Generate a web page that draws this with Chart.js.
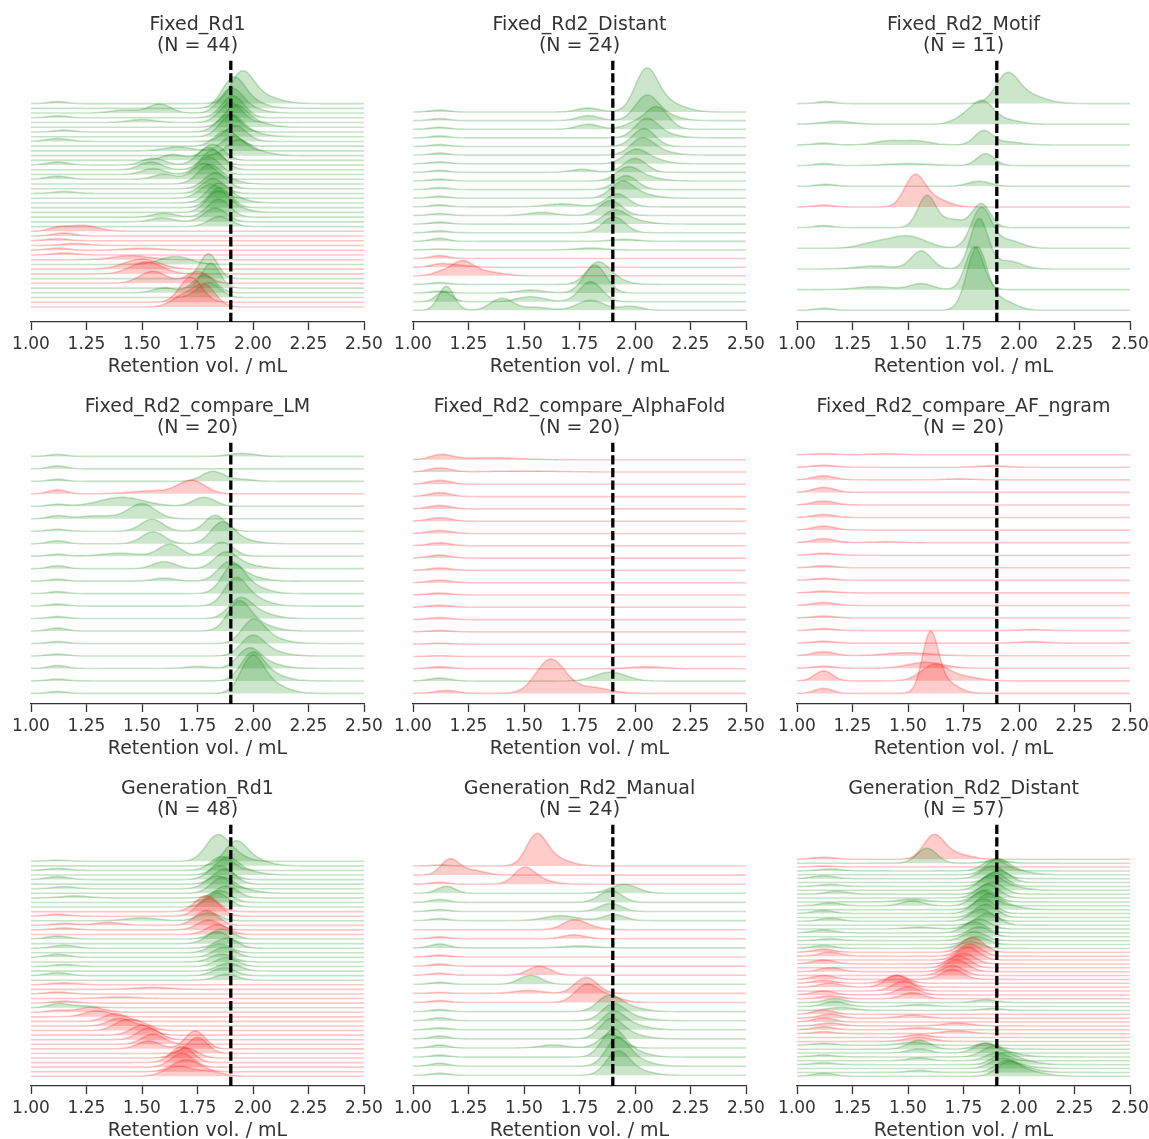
<!DOCTYPE html>
<html>
<head>
<meta charset="utf-8">
<title>Retention volume ridgelines</title>
<script src="https://cdn.jsdelivr.net/npm/chart.js@4.4.1/dist/chart.umd.min.js"></script>
<style>
  html, body { margin: 0; padding: 0; background: #fff; }
  body { position: relative; width: 1149px; height: 1139px; overflow: hidden; }
  canvas { position: absolute; }
</style>
</head>
<body>
<script>
// x axis
const tickValues = [1, 1.25, 1.5, 1.75, 2, 2.25, 2.5];
const tickLabels = ['1.00', '1.25', '1.50', '1.75', '2.00', '2.25', '2.50'];
const cutoff = 1.9;
const xLabel = 'Retention vol. / mL';

const panelTitles = ['Fixed_Rd1', 'Fixed_Rd2_Distant', 'Fixed_Rd2_Motif',
  'Fixed_Rd2_compare_LM', 'Fixed_Rd2_compare_AlphaFold', 'Fixed_Rd2_compare_AF_ngram',
  'Generation_Rd1', 'Generation_Rd2_Manual', 'Generation_Rd2_Distant'];
const panelCounts = [44, 24, 11, 20, 20, 20, 48, 24, 57];

// one letter per ridge, top to bottom: g = passed, r = failed
const fixedRd1Colors = 'ggggggggggggggggggggggggggg' + 'rrrrrrr' + 'grrgrgggrr';
const fixedRd2DistantColors = 'ggggggggggggggggg' + 'rrr' + 'gggg';
const fixedRd2MotifColors = 'gggggrggggg';
const compareLMColors = 'gggrgggggggggggggggg';
const compareAlphaFoldColors = 'rrrrrrrrrrrrrrrrrrgr';
const compareAFngramColors = 'rrrrrrrrrrrrrrrrrrrr';
const generationRd1Colors = 'ggggggggggg' + 'rrgrrr' + 'gggggggggg' + 'rrrrr' + 'g' + 'rrrrrrrrrrrrrrr';
const generationRd2ManualColors = 'rrrggggrrgrrrgrr' + 'gggggggg';
const generationRd2DistantColors = 'rgr' + 'ggggggggggggggggggggg' + 'rrrrrrrrrrrrr' + 'ggg' + 'rrrrrrrr' + 'ggggggggg';

// peaks: [retention vol. mL, height, width mL]
const fixedRd1Peaks = [
  [[1.95, 28], [2.03, 8, 0.08], [1.12, 2, 0.04]],
  [[1.91, 27], [1.98, 7, 0.07]],
  [[1.90, 22], [1.58, 9, 0.05], [1.42, 3, 0.06], [1.97, 5, 0.07]],
  [[1.91, 22], [1.12, 2, 0.04]],
  [[1.90, 20], [1.50, 3, 0.06]],
  [[1.92, 20], [2.00, 5, 0.07]],
  [[1.89, 18], [1.15, 2, 0.04]],
  [[1.90, 20], [1.98, 4, 0.07]],
  [[1.92, 16], [1.12, 3, 0.05]],
  [[1.88, 16]],
  [[1.91, 15], [1.66, 4, 0.06]],
  [[1.93, 14], [2.01, 4, 0.07]],
  [[1.82, 16], [1.64, 6, 0.05]],
  [[1.80, 18], [1.55, 7, 0.05], [1.12, 3, 0.05]],
  [[1.82, 20], [1.54, 8, 0.05]],
  [[1.80, 18], [1.55, 6, 0.05]],
  [[1.78, 16], [1.60, 5, 0.05], [1.12, 3, 0.05]],
  [[1.80, 18], [1.88, 4, 0.06]],
  [[1.83, 16]],
  [[1.82, 15], [1.15, 2, 0.05]],
  [[1.81, 14]],
  [[1.84, 18], [1.92, 4, 0.06]],
  [[1.85, 20]],
  [[1.84, 20], [1.92, 4, 0.06]],
  [[1.845, 18], [1.60, 4, 0.05]],
  [[1.83, 14], [1.59, 4, 0.05]],
  [[1.85, 10]],
  [[1.23, 6, 0.07], [1.12, 3, 0.04]],
  [[1.15, 3]],
  [[1.12, 2]],
  [[1.20, 2, 0.06]],
  [[1.12, 2], [1.50, 2, 0.08]],
  [[1.15, 2]],
  [[1.45, 4, 0.08]],
  [[1.65, 8, 0.07]],
  [[1.50, 10, 0.08]],
  [[1.52, 12, 0.07]],
  [[1.80, 25, 0.04]],
  [[1.55, 12, 0.06], [1.75, 12]],
  [[1.81, 25, 0.04]],
  [[1.78, 18], [1.60, 5]],
  [[1.80, 15]],
  [[1.72, 25]],
  [[1.78, 22], [1.68, 10]]
];

const fixedRd2DistantPeaks = [
  [[2.05, 38], [2.13, 10, 0.08], [1.79, 4], [1.12, 2, 0.04]],
  [[2.05, 22], [2.12, 6, 0.07], [1.79, 5], [1.12, 2, 0.04]],
  [[2.10, 22], [2.00, 6], [1.79, 5], [1.12, 2, 0.04]],
  [[2.05, 17], [2.12, 4, 0.07], [1.12, 2, 0.04]],
  [[2.04, 18], [1.12, 2, 0.04]],
  [[2.03, 15], [2.10, 4, 0.07], [1.12, 2, 0.04]],
  [[2.00, 13], [2.08, 4, 0.06], [1.12, 2, 0.04]],
  [[2.00, 14], [1.76, 3], [1.12, 2, 0.04]],
  [[1.965, 12], [2.04, 4, 0.07], [1.12, 2, 0.04]],
  [[1.96, 14], [1.12, 2, 0.04]],
  [[1.94, 15], [2.02, 4, 0.07], [1.12, 2, 0.04]],
  [[1.92, 13], [1.67, 3, 0.07], [1.12, 2, 0.04]],
  [[1.89, 15], [1.58, 3, 0.06], [1.12, 2, 0.04]],
  [[1.905, 12], [1.98, 4, 0.07], [1.12, 2, 0.04]],
  [[1.905, 16], [1.12, 2, 0.04]],
  [[1.12, 3, 0.04], [1.95, 2, 0.06]],
  [[1.80, 2, 0.06], [1.12, 1, 0.04]],
  [[1.12, 3, 0.04]],
  [[1.12, 3, 0.04], [1.20, 2]],
  [[1.22, 14], [1.33, 4, 0.07], [1.12, 3, 0.04]],
  [[1.83, 20], [1.90, 5, 0.06], [1.12, 2, 0.04]],
  [[1.82, 28], [1.53, 3, 0.06], [1.12, 2, 0.04]],
  [[1.14, 10, 0.035], [1.53, 5, 0.06], [1.80, 20]],
  [[1.15, 24, 0.035], [1.40, 12], [1.55, 3, 0.06], [1.80, 10, 0.06], [1.98, 4]]
];

const fixedRd2MotifPeaks = [
  [[1.945, 26], [2.03, 9, 0.08], [1.13, 2, 0.04]],
  [[1.835, 22], [1.75, 6], [1.18, 3, 0.07], [1.95, 4, 0.06]],
  [[1.84, 14, 0.04], [1.41, 4, 0.06], [1.54, 4, 0.06], [1.12, 2, 0.04], [1.95, 3, 0.06]],
  [[1.85, 12, 0.04], [1.50, 2, 0.1], [1.12, 2, 0.04]],
  [[1.82, 5], [1.13, 2, 0.04]],
  [[1.53, 30, 0.045], [1.62, 8, 0.06], [1.12, 2, 0.04]],
  [[1.585, 32, 0.04], [1.83, 24, 0.04], [1.70, 8], [1.12, 2, 0.04]],
  [[1.83, 40, 0.045], [1.50, 12, 0.08], [1.35, 5, 0.07], [1.95, 8, 0.06]],
  [[1.56, 18, 0.045], [1.82, 50, 0.04], [1.35, 3, 0.08], [1.95, 8, 0.06]],
  [[1.80, 43, 0.04], [1.56, 6], [1.35, 3, 0.08]],
  [[1.81, 62, 0.045], [1.92, 10, 0.06], [1.12, 2, 0.04]]
];

const compareLMPeaks = [
  [[1.12, 2, 0.04], [1.95, 3, 0.06]],
  [[1.12, 3, 0.04]],
  [[1.82, 10], [1.12, 2, 0.04], [1.95, 2]],
  [[1.725, 13, 0.06], [1.55, 3, 0.1], [1.12, 4, 0.04]],
  [[1.41, 9, 0.1], [1.78, 9], [1.12, 2, 0.04]],
  [[1.50, 15, 0.06], [1.30, 3, 0.08], [1.12, 3, 0.04]],
  [[1.545, 12], [1.83, 16, 0.045], [1.12, 2, 0.04]],
  [[1.55, 12], [1.86, 20], [1.94, 4, 0.07], [1.12, 3, 0.04]],
  [[1.625, 12], [1.40, 3, 0.08], [1.86, 14], [1.12, 2, 0.04]],
  [[1.60, 7], [1.875, 15], [1.96, 4, 0.07], [1.12, 3, 0.04]],
  [[1.89, 17], [1.97, 5, 0.07], [1.60, 3], [1.12, 2, 0.04]],
  [[1.91, 26], [1.99, 7, 0.07], [1.12, 2, 0.04]],
  [[1.92, 25], [2.00, 7, 0.07], [1.12, 2, 0.04]],
  [[1.94, 18], [2.02, 6, 0.07], [1.12, 2, 0.04]],
  [[1.935, 27], [2.02, 7, 0.07], [1.12, 3, 0.04]],
  [[2.00, 22], [2.08, 5, 0.07], [1.12, 2, 0.04]],
  [[1.995, 18], [2.07, 5, 0.07], [1.12, 2, 0.04]],
  [[1.98, 18], [2.06, 5, 0.07], [1.75, 2], [1.12, 3, 0.04]],
  [[1.995, 25], [2.07, 7, 0.07], [1.12, 2, 0.04]],
  [[1.995, 34], [2.08, 9, 0.07], [1.12, 2, 0.04]]
];

const compareAlphaFoldPeaks = [
  [[1.13, 5], [1.35, 2, 0.12]],
  [[1.12, 4], [1.50, 1, 0.15]],
  [[1.12, 4]],
  [[1.12, 4]],
  [[1.12, 3.5]],
  [[1.12, 3.5]],
  [[1.12, 3]],
  [[1.12, 3]],
  [[1.12, 3]],
  [[1.12, 2.5]],
  [[1.12, 2.5]],
  [[1.12, 2]],
  [[1.12, 2]],
  [[1.12, 2]],
  [[1.12, 1.5]],
  [[1.12, 1]],
  [[1.12, 0.8]],
  [[1.12, 2], [2.05, 2, 0.08]],
  [[1.89, 9, 0.07], [1.12, 3]],
  [[1.62, 34, 0.065], [1.80, 6, 0.08], [1.15, 3]]
];

const compareAFngramPeaks = [
  [[1.12, 1], [1.40, 1, 0.06]],
  [[1.12, 2], [1.88, 1.5, 0.06]],
  [[1.12, 4], [1.73, 1, 0.06]],
  [[1.12, 5]],
  [[1.12, 4]],
  [[1.12, 3]],
  [[1.12, 4]],
  [[1.12, 4], [1.40, 1, 0.06]],
  [[1.12, 2]],
  [[1.12, 2]],
  [[1.12, 2]],
  [[1.12, 2]],
  [[1.12, 3]],
  [[1.12, 2]],
  [[1.12, 2], [2.06, 1, 0.06]],
  [[1.12, 2], [2.06, 1.5, 0.06]],
  [[1.12, 4], [1.50, 3, 0.1]],
  [[1.58, 6, 0.08], [1.12, 2]],
  [[1.62, 16, 0.06], [1.12, 10, 0.04], [1.75, 4, 0.07]],
  [[1.60, 55, 0.035], [1.66, 12, 0.06], [1.12, 5, 0.04]]
];

const generationRd1Peaks = [
  [[1.835, 22], [1.90, 8, 0.06], [1.12, 1]],
  [[1.92, 22], [2.00, 6, 0.07]],
  [[1.86, 14], [1.12, 2]],
  [[1.88, 16], [1.96, 4, 0.07]],
  [[1.85, 14], [1.12, 3]],
  [[1.87, 15]],
  [[1.84, 13], [1.15, 2]],
  [[1.86, 14], [1.94, 4, 0.07]],
  [[1.88, 12], [1.20, 2, 0.06]],
  [[1.85, 12]],
  [[1.84, 14]],
  [[1.79, 16]],
  [[1.80, 18], [1.12, 2]],
  [[1.50, 3, 0.07], [1.80, 8]],
  [[1.79, 15], [1.35, 3, 0.06], [1.15, 2]],
  [[1.80, 10], [1.15, 2]],
  [[1.84, 10]],
  [[1.86, 10], [1.12, 3]],
  [[1.84, 12]],
  [[1.88, 10], [1.15, 3]],
  [[1.85, 9]],
  [[1.87, 10], [1.12, 3]],
  [[1.86, 8]],
  [[1.88, 9], [1.15, 2]],
  [[1.89, 8]],
  [[1.87, 8], [1.12, 3]],
  [[1.88, 6]],
  [[1.15, 2, 0.06]],
  [[1.55, 2, 0.08]],
  [[1.12, 2]],
  [[1.40, 1.5, 0.08]],
  [[1.15, 2]],
  [[1.12, 4, 0.04], [1.22, 2, 0.06]],
  [[1.27, 5, 0.06], [1.12, 2, 0.04]],
  [[1.30, 6, 0.06]],
  [[1.38, 8]],
  [[1.40, 8]],
  [[1.42, 9], [1.50, 6]],
  [[1.50, 10]],
  [[1.53, 12]],
  [[1.55, 10]],
  [[1.53, 8], [1.74, 18, 0.045]],
  [[1.75, 16, 0.045]],
  [[1.70, 10]],
  [[1.68, 16]],
  [[1.68, 14]],
  [[1.70, 12, 0.06]],
  [[1.66, 10, 0.06], [1.80, 5, 0.06]]
];

const generationRd2ManualPeaks = [
  [[1.555, 28, 0.045], [1.63, 8, 0.07], [1.12, 1, 0.04]],
  [[1.165, 15, 0.04], [1.26, 5, 0.06]],
  [[1.50, 15, 0.045], [1.57, 4, 0.06], [1.12, 2, 0.04]],
  [[1.15, 7, 0.04], [1.95, 9, 0.06]],
  [[1.89, 12], [1.12, 3, 0.04]],
  [[1.89, 8], [1.12, 2, 0.04]],
  [[1.665, 5, 0.07], [1.905, 6], [1.12, 2, 0.04]],
  [[1.72, 8], [1.78, 3, 0.06]],
  [[1.725, 4], [1.12, 2, 0.04]],
  [[1.12, 4, 0.04], [1.75, 2, 0.07]],
  [[1.12, 2, 0.04]],
  [[1.12, 2, 0.04]],
  [[1.57, 9], [1.12, 2, 0.04]],
  [[1.53, 9], [1.12, 2, 0.04]],
  [[1.78, 16], [1.52, 3, 0.06], [1.12, 1, 0.04]],
  [[1.78, 17], [1.88, 6, 0.06], [1.12, 2, 0.04]],
  [[1.88, 14], [1.96, 5, 0.07], [1.12, 2, 0.04]],
  [[1.90, 15], [1.98, 4, 0.07], [1.12, 3, 0.04]],
  [[1.90, 16], [1.98, 5, 0.07], [1.12, 2, 0.04]],
  [[1.89, 18], [1.97, 5, 0.07], [1.12, 3, 0.04]],
  [[1.89, 14], [1.63, 3, 0.06], [1.12, 3, 0.04]],
  [[1.90, 25], [1.98, 6, 0.07], [1.12, 2, 0.04]],
  [[1.92, 26], [2.00, 6, 0.07], [1.12, 3, 0.04]],
  [[1.92, 22], [2.00, 5, 0.07], [1.12, 2, 0.04]]
];

const generationRd2DistantPeaks = [
  [[1.615, 22, 0.045], [1.70, 6, 0.07], [1.12, 2]],
  [[1.585, 15, 0.045], [1.90, 3]],
  [[1.12, 1]],
  [[1.89, 12], [1.15, 2]],
  [[1.90, 14], [1.98, 4, 0.07]],
  [[1.88, 13], [1.12, 3]],
  [[1.91, 12]],
  [[1.89, 14], [1.15, 2]],
  [[1.87, 13], [1.95, 4, 0.07]],
  [[1.88, 12], [1.18, 3]],
  [[1.86, 14]],
  [[1.85, 12], [1.52, 3, 0.06]],
  [[1.84, 15], [1.52, 5], [1.15, 3]],
  [[1.86, 14], [1.94, 4, 0.07]],
  [[1.84, 15], [1.12, 3]],
  [[1.85, 13]],
  [[1.83, 12], [1.15, 3]],
  [[1.86, 12]],
  [[1.82, 10], [1.55, 2, 0.06]],
  [[1.80, 11], [1.12, 3]],
  [[1.82, 10]],
  [[1.80, 9], [1.15, 2]],
  [[1.81, 8]],
  [[1.78, 7], [1.12, 3]],
  [[1.79, 15], [1.12, 3]],
  [[1.78, 12], [1.15, 4]],
  [[1.77, 13]],
  [[1.75, 11], [1.12, 4]],
  [[1.73, 12]],
  [[1.72, 12], [1.15, 4]],
  [[1.70, 10]],
  [[1.70, 10], [1.12, 4]],
  [[1.45, 8], [1.12, 3]],
  [[1.45, 12], [1.15, 4]],
  [[1.48, 10]],
  [[1.50, 8], [1.12, 4]],
  [[1.52, 6], [1.15, 3]],
  [[1.17, 4], [1.85, 3]],
  [[1.17, 5], [1.55, 2, 0.06]],
  [[1.20, 3, 0.06], [1.88, 2]],
  [[1.12, 4]],
  [[1.15, 4], [1.52, 3, 0.06]],
  [[1.12, 4]],
  [[1.15, 3], [1.72, 3, 0.06]],
  [[1.12, 3], [1.55, 2, 0.06]],
  [[1.72, 3, 0.06], [1.12, 2]],
  [[1.55, 3]],
  [[1.55, 4, 0.06]],
  [[1.52, 3, 0.06], [1.12, 2]],
  [[1.55, 9], [1.85, 6]],
  [[1.85, 10], [1.55, 4]],
  [[1.88, 9], [1.96, 3, 0.07], [1.12, 2]],
  [[1.90, 8], [1.55, 3]],
  [[1.93, 10], [2.01, 4, 0.07], [1.12, 2]],
  [[1.92, 9], [2.0, 3, 0.07]],
  [[1.94, 10], [2.02, 4, 0.07], [1.55, 2]],
  [[1.95, 12], [2.03, 5, 0.08], [1.12, 3]]
];

const panelColors = [fixedRd1Colors, fixedRd2DistantColors, fixedRd2MotifColors,
  compareLMColors, compareAlphaFoldColors, compareAFngramColors,
  generationRd1Colors, generationRd2ManualColors, generationRd2DistantColors];
const panelPeaks = [fixedRd1Peaks, fixedRd2DistantPeaks, fixedRd2MotifPeaks,
  compareLMPeaks, compareAlphaFoldPeaks, compareAFngramPeaks,
  generationRd1Peaks, generationRd2ManualPeaks, generationRd2DistantPeaks];

// layout (px): x of 1.00 per column, top of plot per row, ridge baselines above the axis
const colLeft = [30.7, 413, 796.7];
const plotW = 333.4;
const rowTop = [59.5, 441.5, 823.7];
const plotH = 262;
const ridgeSpan = [[218.4, 15], [210, 11.7], [218.4, 11.7],
  [247.6, 10.6], [244.3, 10.6], [249.3, 10.6],
  [224.7, 9.7], [220, 10.7], [226.7, 9.7]];
const padSide = 40, titleBox = 50, axisBox = 70;

const ink = '#333333';
const fillColor = { g: 'rgba(0,128,0,0.2)', r: 'rgba(255,0,0,0.2)' };
const lineColor = { g: 'rgba(0,128,0,0.22)', r: 'rgba(255,0,0,0.22)' };

const xs = [];
for (let k = 0; k <= 150; k++) xs.push(1 + k / 100);

function ridgeLine(peaks, base) {
  return xs.map(x => {
    let y = 0;
    for (const [c, h, w = 0.05] of peaks) y += h * Math.exp(-0.5 * ((x - c) / w) ** 2);
    return { x: x, y: base + y };
  });
}

Chart.defaults.font.family = '"DejaVu Sans", sans-serif';
Chart.defaults.color = ink;

panelTitles.forEach((title, p) => {
  const col = p % 3, row = Math.floor(p / 3);
  const canvas = document.createElement('canvas');
  const w = plotW + 2 * padSide, h = titleBox + plotH + axisBox;
  canvas.width = w; canvas.height = h;
  canvas.style.left = (colLeft[col] - padSide) + 'px';
  canvas.style.top = (rowTop[row] - titleBox) + 'px';
  canvas.style.width = w + 'px'; canvas.style.height = h + 'px';
  document.body.appendChild(canvas);

  const colors = panelColors[p], peaks = panelPeaks[p];
  const n = peaks.length;
  const [topBase, botBase] = ridgeSpan[p];
  const step = (topBase - botBase) / (n - 1);

  const datasets = peaks.map((pk, i) => {
    const base = topBase - i * step;
    const c = colors[i];
    return {
      data: ridgeLine(pk, base),
      borderColor: lineColor[c],
      backgroundColor: fillColor[c],
      borderWidth: 1.6,
      pointRadius: 0,
      tension: 0,
      fill: { value: base },
      order: n - i + 1
    };
  });
  datasets.push({
    data: [{ x: cutoff, y: 0 }, { x: cutoff, y: 5000 }],
    borderColor: '#000',
    borderWidth: 3.3,
    borderDash: [9.3, 3.3],
    pointRadius: 0,
    fill: false,
    order: 0
  });

  const chart = new Chart(canvas, {
    type: 'line',
    data: { datasets: datasets },
    options: {
      responsive: false,
      animation: false,
      devicePixelRatio: 1,
      events: [],
      parsing: false,
      layout: { padding: { left: padSide, right: padSide, top: 0, bottom: 0 } },
      plugins: {
        legend: { display: false },
        tooltip: { enabled: false },
        title: {
          display: true,
          text: [title, '(N = ' + panelCounts[p] + ')'],
          color: ink,
          font: { size: 19, weight: 'normal', lineHeight: 1.15 },
          padding: { top: 3.7, bottom: titleBox - 43.7 - 3.7 }
        }
      },
      scales: {
        x: {
          type: 'linear',
          min: 1, max: 2.5,
          afterBuildTicks: s => { s.ticks = tickValues.map(v => ({ value: v })); },
          afterFit: s => { s.height = axisBox; },
          ticks: {
            callback: (v, i) => tickLabels[i],
            color: ink,
            font: { size: 17 },
            padding: 4,
            maxRotation: 0
          },
          grid: { display: true, drawOnChartArea: false, drawTicks: true, tickLength: 8, tickWidth: 1.3, tickColor: ink, color: ink },
          border: { display: true, color: ink, width: 1.3 },
          title: { display: true, text: xLabel, color: ink, font: { size: 19 }, padding: { top: 0, bottom: 13.5 } }
        },
        y: { type: 'linear', display: false, min: 0, max: plotH }
      }
    }
  });
  const areaH = chart.chartArea.bottom - chart.chartArea.top;
  if (Math.abs(areaH - plotH) > 0.01) {
    chart.options.scales.y.max = areaH;
    chart.update();
  }
});
</script>
</body>
</html>
